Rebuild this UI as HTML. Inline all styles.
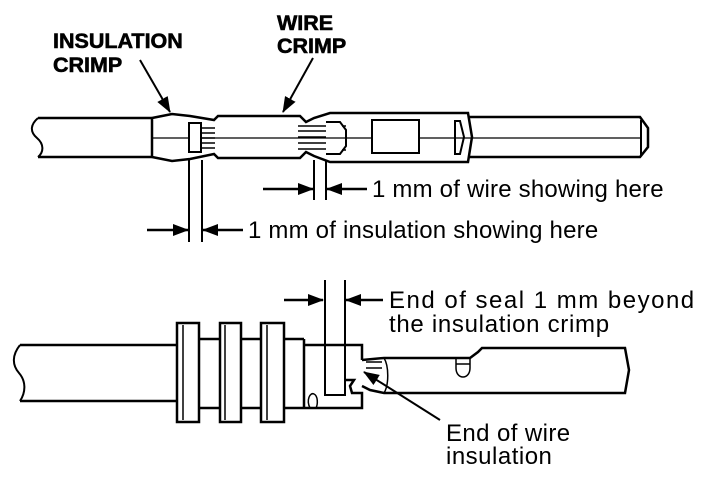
<!DOCTYPE html>
<html><head><style>
html,body{margin:0;padding:0;background:#fff;}
svg{display:block;}
text{font-family:"Liberation Sans",Arial,sans-serif;fill:#000;}
.b{font-weight:bold;font-size:21.5px;stroke:#000;stroke-width:0.6px;}
</style></head><body>
<svg width="704" height="478" viewBox="0 0 704 478" xmlns="http://www.w3.org/2000/svg">
<defs>
<marker id="ahb" markerWidth="16" markerHeight="12" refX="15" refY="6" orient="auto" markerUnits="userSpaceOnUse"><path d="M0,0 L16,6 L0,12 z" fill="#000"/></marker>
</defs>
<g stroke="#000" stroke-width="2.5" fill="none">
<line x1="140" y1="60" x2="170" y2="112" marker-end="url(#ahb)" stroke-width="2"/>
<line x1="313" y1="58" x2="283" y2="112" marker-end="url(#ahb)" stroke-width="2"/>
<path d="M38,118 L152,118 M38,157 L152,157"/>
<path d="M38,118 C30,125 30,132 37,138 C44,144 44,152 38,157" stroke-width="2"/>
<path d="M152,118 L152,157 M152,118 L172,114 L190,116 L214,120 L218,116 L300,116 L306,122 L314,118 L330,113 L468,113 L472,137 L468,162 L330,162 L314,156 L306,152 L300,158 L218,158 L214,154 L190,159 L172,161 L152,157"/>
<path d="M468,117 L640,117 L648,128 L648,147 L640,157 L468,157"/>
<line x1="641" y1="120" x2="641" y2="155" stroke-width="2"/>
<line x1="152" y1="138" x2="641" y2="138" stroke-width="1.2"/>
<rect x="189" y="123" width="12" height="29" fill="#fff" stroke-width="2"/>
<g stroke-width="1.5"><line x1="201" y1="128" x2="215" y2="128"/><line x1="201" y1="133" x2="215" y2="133"/><line x1="201" y1="138" x2="215" y2="138"/><line x1="201" y1="143" x2="215" y2="143"/><line x1="201" y1="148" x2="215" y2="148"/>
<line x1="298" y1="126" x2="326" y2="126"/><line x1="298" y1="131" x2="326" y2="131"/><line x1="298" y1="137" x2="326" y2="137"/><line x1="298" y1="143" x2="326" y2="143"/><line x1="298" y1="149" x2="326" y2="149"/></g>
<path d="M326,122 L340,122 L346,130 L346,146 L340,154 L326,154" stroke-width="2"/>
<path d="M342,126 L346,126 M342,150 L346,150" stroke-width="1.5"/>
<rect x="372" y="120" width="47" height="33" fill="#fff" stroke-width="2"/>
<path d="M455,121 L460,121 L464,137 L460,154 L455,154 Z" stroke-width="2"/>
<path d="M189,160 L189,242 M202,160 L202,242 M314,160 L314,200 M326,160 L326,200" stroke-width="2"/>
</g>
<g stroke="#000" stroke-width="2.5" fill="none">
<line x1="263" y1="189" x2="313" y2="189" marker-end="url(#ahb)"/>
<line x1="367" y1="189" x2="327" y2="189" marker-end="url(#ahb)"/>
<line x1="147" y1="230" x2="188" y2="230" marker-end="url(#ahb)"/>
<line x1="243" y1="230" x2="203" y2="230" marker-end="url(#ahb)"/>
<line x1="284" y1="300" x2="323" y2="300" marker-end="url(#ahb)"/>
<line x1="383" y1="300" x2="346" y2="300" marker-end="url(#ahb)"/>
<path d="M20,345 L177,345 M20,401 L177,401"/>
<path d="M20,345 C12,355 12,365 19,373 C26,381 26,392 20,401" stroke-width="2"/>
<rect x="177" y="323" width="22" height="99" fill="#fff"/>
<rect x="220" y="323" width="21" height="99" fill="#fff"/>
<rect x="261" y="323" width="23" height="99" fill="#fff"/>
<path d="M183,325 L183,420 M225,325 L225,420 M267,325 L267,420" stroke-width="1.5"/>
<path d="M199,339 L220,339 M199,408 L220,408 M241,339 L261,339 M241,408 L261,408 M284,339 L304,339 M284,408 L304,408"/>
<path d="M304,339 L304,408"/>
<path d="M304,345 L362,345 L362,360 M304,408 L362,408 L362,393 L352,393 L350,386 L354,380 L346,380"/>
<path d="M325,280 L325,395 L345,395 L345,280" stroke-width="2"/>
<path d="M310,408 C306,400 310,392 314,394 C318,396 318,404 316,408" stroke-width="1.5"/>
<path d="M362,360 L384,358 L470,358 L478,352 L482,348 L625,348 L629,370 L625,393 L384,393 L370,390 L362,386"/>
<path d="M366,362 L382,362 M366,368 L382,368" stroke-width="1.5"/>
<path d="M384,358 C389,366 389,385 384,393" stroke-width="1.5"/>
<path d="M456,359 L456,368 C456,380 470,380 470,368 L470,359 M456,364 L470,364" stroke-width="1.5"/>
<line x1="440" y1="420" x2="364" y2="372" marker-end="url(#ahb)" stroke-width="2"/>
</g>
<text class="b" x="53" y="48">INSULATION</text>
<text class="b" x="53" y="72">CRIMP</text>
<text class="b" x="277" y="30">WIRE</text>
<text class="b" x="277" y="53">CRIMP</text>
<g font-size="24">
<text x="372" y="197" letter-spacing="0.2">1 mm of wire showing here</text>
<text x="248" y="238" letter-spacing="0.2">1 mm of insulation showing here</text>
<text x="389" y="308" letter-spacing="1.5">End of seal 1 mm beyond</text>
<text x="389" y="332" letter-spacing="0.7">the insulation crimp</text>
<text x="446" y="441" letter-spacing="0.4">End of wire</text>
<text x="446" y="464" letter-spacing="0.5">insulation</text>
</g>
</svg>
</body></html>
